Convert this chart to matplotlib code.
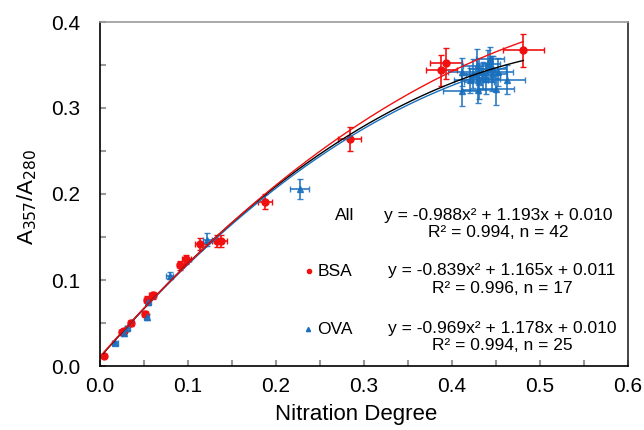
import numpy as np
import matplotlib
matplotlib.use("Agg")
import matplotlib.pyplot as plt
from matplotlib.ticker import MultipleLocator

plt.rcParams["font.family"] = ["Liberation Sans", "DejaVu Sans"]

# BSA (red circles)
bsa_x = [0.004, 0.025, 0.027, 0.035, 0.051, 0.053, 0.060, 0.091, 0.098, 0.114,
         0.133, 0.138, 0.188, 0.284, 0.388, 0.393, 0.481]
bsa_y = [0.012, 0.039, 0.041, 0.050, 0.061, 0.077, 0.082, 0.117, 0.124, 0.142,
         0.145, 0.145, 0.191, 0.264, 0.344, 0.352, 0.367]
bsa_xerr = [0.002, 0.003, 0.003, 0.003, 0.003, 0.003, 0.004, 0.004, 0.005, 0.006,
            0.006, 0.006, 0.008, 0.013, 0.018, 0.018, 0.023]
bsa_yerr = [0.002, 0.003, 0.003, 0.003, 0.003, 0.004, 0.004, 0.005, 0.005, 0.007,
            0.007, 0.007, 0.009, 0.014, 0.018, 0.018, 0.019]

# OVA (blue triangles)
ova_x = [0.017, 0.027, 0.031, 0.053, 0.055, 0.079, 0.122, 0.227,
         0.411, 0.411, 0.420, 0.424, 0.428, 0.430, 0.431, 0.431, 0.435,
         0.439, 0.441, 0.443, 0.445, 0.447, 0.450, 0.452, 0.462]
ova_y = [0.027, 0.038, 0.044, 0.057, 0.074, 0.105, 0.147, 0.206,
         0.342, 0.320, 0.332, 0.340, 0.349, 0.321, 0.330, 0.345, 0.338,
         0.334, 0.351, 0.357, 0.340, 0.345, 0.322, 0.342, 0.333]
ova_xerr = [0.003, 0.003, 0.003, 0.003, 0.003, 0.004, 0.005, 0.011,
            0.015, 0.021, 0.018, 0.014, 0.016, 0.020, 0.017, 0.012, 0.019,
            0.015, 0.013, 0.016, 0.018, 0.014, 0.020, 0.017, 0.021]
ova_yerr = [0.002, 0.003, 0.003, 0.003, 0.003, 0.004, 0.008, 0.012,
            0.016, 0.018, 0.014, 0.017, 0.020, 0.015, 0.019, 0.013, 0.016,
            0.018, 0.017, 0.014, 0.020, 0.015, 0.018, 0.016, 0.017]

# quadratic fits as printed on the chart (a, b, c)
fit_all = [-0.988, 1.193, 0.010]
fit_bsa = [-0.839, 1.165, 0.011]
fit_ova = [-0.969, 1.178, 0.010]

RED = "#f01010"
BLUE = "#1a6fbd"

fig = plt.figure(figsize=(6.44, 4.30), dpi=100)
ax = fig.add_axes([100 / 644, 1 - 366 / 430, 528 / 644, 344 / 430])

ax.errorbar(bsa_x, bsa_y, xerr=bsa_xerr, yerr=bsa_yerr, fmt="o", ms=5,
            color=RED, ecolor=RED, elinewidth=1.2, capsize=2.5, capthick=1.0, zorder=2)
ax.errorbar(ova_x, ova_y, xerr=ova_xerr, yerr=ova_yerr, fmt="^", ms=5,
            color=BLUE, ecolor=BLUE, elinewidth=1.3, capsize=2.5, capthick=1.0,
            alpha=0.85, zorder=2)


def fit_line(coefs, xs, color):
    xx = np.linspace(min(xs), max(xs), 200)
    ax.plot(xx, np.polyval(coefs, xx), color=color, lw=1.0, zorder=3)


fit_line(fit_ova, ova_x, BLUE)
fit_line(fit_all, bsa_x + ova_x, "black")
fit_line(fit_bsa, bsa_x, RED)

ax.set_xlim(0, 0.6)
ax.set_ylim(0, 0.4)
ax.xaxis.set_major_locator(MultipleLocator(0.1))
ax.xaxis.set_minor_locator(MultipleLocator(0.05))
ax.yaxis.set_major_locator(MultipleLocator(0.1))
ax.yaxis.set_minor_locator(MultipleLocator(0.05))
ax.xaxis.set_major_formatter(lambda v, p: f"{v:.1f}")
ax.yaxis.set_major_formatter(lambda v, p: f"{v:.1f}")
ax.tick_params(which="both", direction="in", length=4, width=1.5, color="0.6",
               top=False, right=False, labelsize=15)
ax.tick_params(axis="x", pad=8)
ax.tick_params(axis="y", pad=14)

ax.spines["top"].set_color("0.6")
ax.spines["right"].set_color("0.15")
for s in ax.spines.values():
    s.set_linewidth(1.2)

ax.set_xlabel("Nitration Degree", fontsize=16)
ax.xaxis.set_label_coords(0.486, -0.11)
ax.set_ylabel("A$_{357}$/A$_{280}$", fontsize=16)
ax.yaxis.set_label_coords(-0.115, 0.49)

fs = 12.5
ax.text(0.278, 0.175, "All", fontsize=fs, ha="center", va="center")
ax.text(0.452, 0.175, "y = -0.988x² + 1.193x + 0.010", fontsize=fs, ha="center", va="center")
ax.text(0.452, 0.155, "R² = 0.994, n = 42", fontsize=fs, ha="center", va="center")

ax.plot([0.237], [0.110], "o", color=RED, ms=3)
ax.text(0.247, 0.110, "BSA", fontsize=fs, ha="left", va="center")
ax.text(0.457, 0.111, "y = -0.839x² + 1.165x + 0.011", fontsize=fs, ha="center", va="center")
ax.text(0.457, 0.090, "R² = 0.996, n = 17", fontsize=fs, ha="center", va="center")

ax.plot([0.236], [0.043], "^", color=BLUE, ms=3)
ax.text(0.247, 0.042, "OVA", fontsize=fs, ha="left", va="center")
ax.text(0.457, 0.044, "y = -0.969x² + 1.178x + 0.010", fontsize=fs, ha="center", va="center")
ax.text(0.457, 0.024, "R² = 0.994, n = 25", fontsize=fs, ha="center", va="center")

fig.savefig("out.png", dpi=100)
